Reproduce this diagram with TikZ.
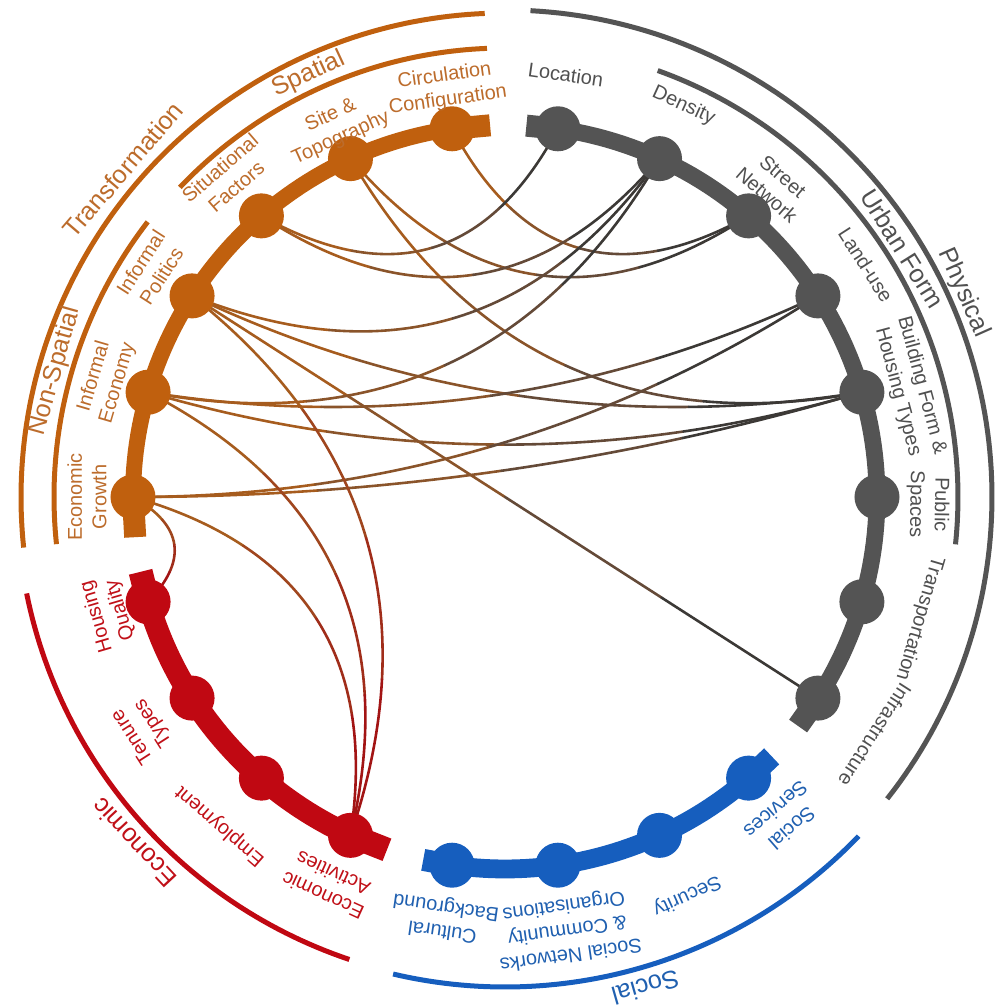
\documentclass[tikz,border=0pt]{standalone}
\usepackage{fontspec}
\setmainfont{Liberation Sans}
\usetikzlibrary{calc}
\pgfdeclarelayer{bg}
\pgfdeclarelayer{mid}
\pgfsetlayers{bg,mid,main}
\definecolor{cO}{RGB}{192,96,14}
\definecolor{cOt}{RGB}{188,108,44}
\definecolor{cG}{RGB}{84,84,84}
\definecolor{cGt}{RGB}{80,80,80}
\definecolor{cR}{RGB}{192,8,18}
\definecolor{cRt}{RGB}{192,16,24}
\definecolor{cB}{RGB}{22,94,190}
\definecolor{cBt}{RGB}{32,96,176}
\definecolor{gk1}{RGB}{166,92,30}
\definecolor{gk2}{RGB}{138,84,42}
\definecolor{gk3}{RGB}{100,74,56}
\definecolor{gk4}{RGB}{60,57,54}
\definecolor{rk1}{RGB}{166,92,30}
\definecolor{rk2}{RGB}{160,70,30}
\definecolor{rk3}{RGB}{160,45,26}
\definecolor{rk4}{RGB}{162,20,20}
\tikzset{
  dot/.style={circle,minimum size=1.125cm,inner sep=0pt,fill=#1},
  lbl/.style={font=\fontsize{14.2pt}{17.5pt}\selectfont,align=center,inner sep=0pt},
  cat/.style={font=\fontsize{18pt}{20pt}\selectfont,inner sep=0pt},
  lkbase/.style={line width=0.065cm,line cap=round},
  lkGa/.style={lkbase,gk1}, lkGb/.style={lkbase,gk2}, lkGc/.style={lkbase,gk3}, lkGd/.style={lkbase,gk4},
  lkRa/.style={lkbase,rk1}, lkRb/.style={lkbase,rk2}, lkRc/.style={lkbase,rk3}, lkRd/.style={lkbase,rk4},
  outarc/.style={line width=0.125cm,#1},
}
% quadratic link from node #1 to node #3 with control #2, drawn in 4 tinted parts
\newcommand\qlink[4]{%
  \coordinate (qP) at (#1.center);
  \coordinate (qC) at (#2);
  \coordinate (qQ) at (#3.center);
  \coordinate (qk1) at ($0.75*(qP)+0.25*(qC)$);
  \coordinate (qb1) at ($0.5625*(qP)+0.375*(qC)+0.0625*(qQ)$);
  \coordinate (qk2) at ($0.375*(qP)+0.5*(qC)+0.125*(qQ)$);
  \coordinate (qb2) at ($0.25*(qP)+0.5*(qC)+0.25*(qQ)$);
  \coordinate (qk3) at ($0.125*(qP)+0.5*(qC)+0.375*(qQ)$);
  \coordinate (qb3) at ($0.0625*(qP)+0.375*(qC)+0.5625*(qQ)$);
  \coordinate (qk4) at ($0.25*(qC)+0.75*(qQ)$);
  \draw[#4a] (#1.center) .. controls ($(qP)!0.6667!(qk1)$) and ($(qb1)!0.6667!(qk1)$) .. (qb1);
  \draw[#4b] (qb1) .. controls ($(qb1)!0.6667!(qk2)$) and ($(qb2)!0.6667!(qk2)$) .. (qb2);
  \draw[#4c] (qb2) .. controls ($(qb2)!0.6667!(qk3)$) and ($(qb3)!0.6667!(qk3)$) .. (qb3);
  \draw[#4d] (qb3) .. controls ($(qb3)!0.6667!(qk4)$) and ($(qQ)!0.6667!(qk4)$) .. (#3.center);
}
\begin{document}
\begin{tikzpicture}[x=0.025cm,y=0.025cm]
\useasboundingbox (-505,-511) rectangle (496,497);
% ---------- nodes (dots) ----------
\node[dot=cG] (ps)   at (0:372) {};
\node[dot=cG] (ht)   at (16.364:372) {};
\node[dot=cG] (lu)   at (32.727:372) {};
\node[dot=cG] (sn)   at (49.091:372) {};
\node[dot=cG] (den)  at (65.455:372) {};
\node[dot=cG] (loc)  at (81.818:372) {};
\node[dot=cO] (circ) at (98.182:372) {};
\node[dot=cO] (site) at (114.545:372) {};
\node[dot=cO] (sit)  at (130.909:372) {};
\node[dot=cO] (ip)   at (147.273:372) {};
\node[dot=cO] (ie)   at (163.636:372) {};
\node[dot=cO] (eg)   at (180:372) {};
\node[dot=cR] (hq)   at (196.364:372) {};
\node[dot=cR] (tt)   at (212.727:372) {};
\node[dot=cR] (emp)  at (229.091:372) {};
\node[dot=cR] (ea)   at (245.455:372) {};
\node[dot=cB] (cult) at (261.818:372) {};
\node[dot=cB] (snet) at (278.182:372) {};
\node[dot=cB] (sec)  at (294.545:372) {};
\node[dot=cB] (ss)   at (310.909:372) {};
\node[dot=cG] (inf)  at (327.273:372) {};
\node[dot=cG] (trans) at (343.636:372) {};
% stub end points
\coordinate (oS1) at (92.3:372);
\coordinate (oS2) at (186.2:372);
\coordinate (gS1) at (86.7:372);
\coordinate (gS2) at (322:372);
\coordinate (rS1) at (191.6:372);
\coordinate (rS2) at (251.5:372);
\coordinate (bS1) at (257.3:372);
\coordinate (bS2) at (315.8:372);
% ---------- connectors ----------
\begin{pgfonlayer}{bg}
\qlink{circ}{73.64:181}{sn}{lkG}
\qlink{site}{81.82:136}{sn}{lkG}
\qlink{site}{65.45:46}{ht}{lkG}
\qlink{sit}{106.36:181}{loc}{lkG}
\qlink{sit}{98.18:136}{den}{lkG}
\qlink{ip}{106.36:91}{den}{lkG}
\qlink{ip}{81.82:50}{ht}{lkG}
\qlink{ip}{0:0}{inf}{lkG}
\qlink{ie}{114.55:46}{den}{lkG}
\qlink{ie}{98.18:50}{lu}{lkG}
\qlink{ie}{0:0}{ht}{lkG}
\qlink{eg}{0:0}{lu}{lkG}
\qlink{eg}{0:0}{ht}{lkG}
\qlink{ip}{196.36:46}{ea}{lkR}
\qlink{ie}{204.55:91}{ea}{lkR}
\qlink{eg}{212.73:136}{ea}{lkR}
\qlink{eg}{188.18:300}{hq}{lkR}
\end{pgfonlayer}
% ---------- bands ----------
\begin{pgfonlayer}{mid}
\draw[cO,line width=0.4cm] plot[domain=98.182:180,samples=60] (\x:372);
\draw[cO,line width=0.55cm] (circ.center) -- (oS1);
\draw[cO,line width=0.55cm] (eg.center) -- (oS2);
\draw[cG,line width=0.42cm] plot[domain=81.818:-32.727,samples=90] (\x:372);
\draw[cG,line width=0.55cm] (loc.center) -- (gS1);
\draw[cG,line width=0.55cm] (inf.center) -- (gS2);
\draw[cR,line width=0.55cm] plot[domain=196.364:245.455,samples=40] (\x:372);
\draw[cR,line width=0.6cm] (hq.center) -- (rS1);
\draw[cR,line width=0.6cm] (ea.center) -- (rS2);
\draw[cB,line width=0.47cm] plot[domain=261.818:310.909,samples=40] (\x:372);
\draw[cB,line width=0.55cm] (cult.center) -- (bS1);
\draw[cB,line width=0.55cm] (ss.center) -- (bS2);
\end{pgfonlayer}
% ---------- outer category arcs ----------
\draw[outarc=cO] plot[domain=92.4:186,samples=90] (\x:484);
\draw[outarc=cO] plot[domain=92.3:136.4,samples=50] (\x:449);
\draw[outarc=cO] plot[domain=142.4:186,samples=50] (\x:451);
\draw[outarc=cG] plot[domain=87:-38.3,samples=110] (\x:487);
\draw[outarc=cG] plot[domain=70.3:-6,samples=80] (\x:453);
\draw[outarc=cR] plot[domain=191.4:251.4,samples=60] (\x:488);
\draw[outarc=cB] plot[domain=256.8:316.2,samples=60] (\x:490);
% ---------- category labels ----------
\node[cat,text=cOt,rotate=49.4] (tTrans) at (139.4:503) {Transformation};
\node[cat,text=cOt,rotate=24.9] (tSpat) at (114.9:466) {Spatial};
\node[cat,text=cOt,rotate=74.4] (tNonS) at (164.4:467) {Non-Spatial};
\node[cat,text=cGt,rotate=-66] (tPhys) at (24:502) {Physical};
\node[cat,text=cGt,rotate=-58] (tUrb) at (32:469) {Urban Form};
\node[cat,text=cRt,rotate=133] (tEcon) at (223:507) {Economic};
\node[cat,text=cBt,rotate=-164] (tSoc) at (-74:510) {Social};
% ---------- node labels ----------
\node[lbl,text=cGt,rotate=-8.18] (lLoc) at (81.82:427) {Location};
\node[lbl,text=cGt,rotate=-24.55] (lDen) at (65.45:430) {Density};
\node[lbl,text=cGt,rotate=-40.91] (lSN) at (49.09:412) {Street\\Network};
\node[lbl,text=cGt,rotate=-57.27] (lLU) at (32.73:429) {Land-use};
\node[lbl,text=cGt,rotate=-75] (lHT) at (15:419) {Building Form \&\\Housing Types};
\node[lbl,text=cGt,rotate=-91] (lPS) at (-1:423) {Public\\Spaces};
\node[lbl,text=cGt,rotate=-106.36] (lTr) at (-16.36:432) {Transportation};
\node[lbl,text=cGt,rotate=-122.73] (lInf) at (-32.73:440) {Infrastructure};
\node[lbl,text=cBt,rotate=-139.09] (lSS) at (-49.09:426) {Social\\Services};
\node[lbl,text=cBt,rotate=-155.45] (lSec) at (-65.45:438) {Security};
\node[lbl,text=cBt,rotate=-171.82] (lSNet) at (-81.82:437) {Social Networks\\\& Community\\Organisations};
\node[lbl,text=cBt,rotate=-188.18] (lCult) at (-98.18:426) {Cultural\\Background};
\node[lbl,text=cRt,rotate=-204.55] (lEA) at (-114.55:426) {Economic\\Activities};
\node[lbl,text=cRt,rotate=-220.91] (lEmp) at (-130.91:435) {Employment};
\node[lbl,text=cRt,rotate=-237.27] (lTT) at (-147.27:430) {Tenure\\Types};
\node[lbl,text=cRt,rotate=-253.64] (lHQ) at (-163.64:413) {Housing\\Quality};
\node[lbl,text=cOt,rotate=90] (lEG) at (180:418) {Economic\\Growth};
\node[lbl,text=cOt,rotate=73.64] (lIE) at (163.64:416) {Informal\\Economy};
\node[lbl,text=cOt,rotate=57.27] (lIP) at (147.27:421) {Informal\\Politics};
\node[lbl,text=cOt,rotate=40.91] (lSit) at (130.91:423) {Situational\\Factors};
\node[lbl,text=cOt,rotate=24.55] (lSite) at (114.55:407) {Site \&\\Topography};
\node[lbl,text=cOt,rotate=8.18] (lCirc) at (98.18:413) {Circulation\\Configuration};
\end{tikzpicture}
\end{document}
